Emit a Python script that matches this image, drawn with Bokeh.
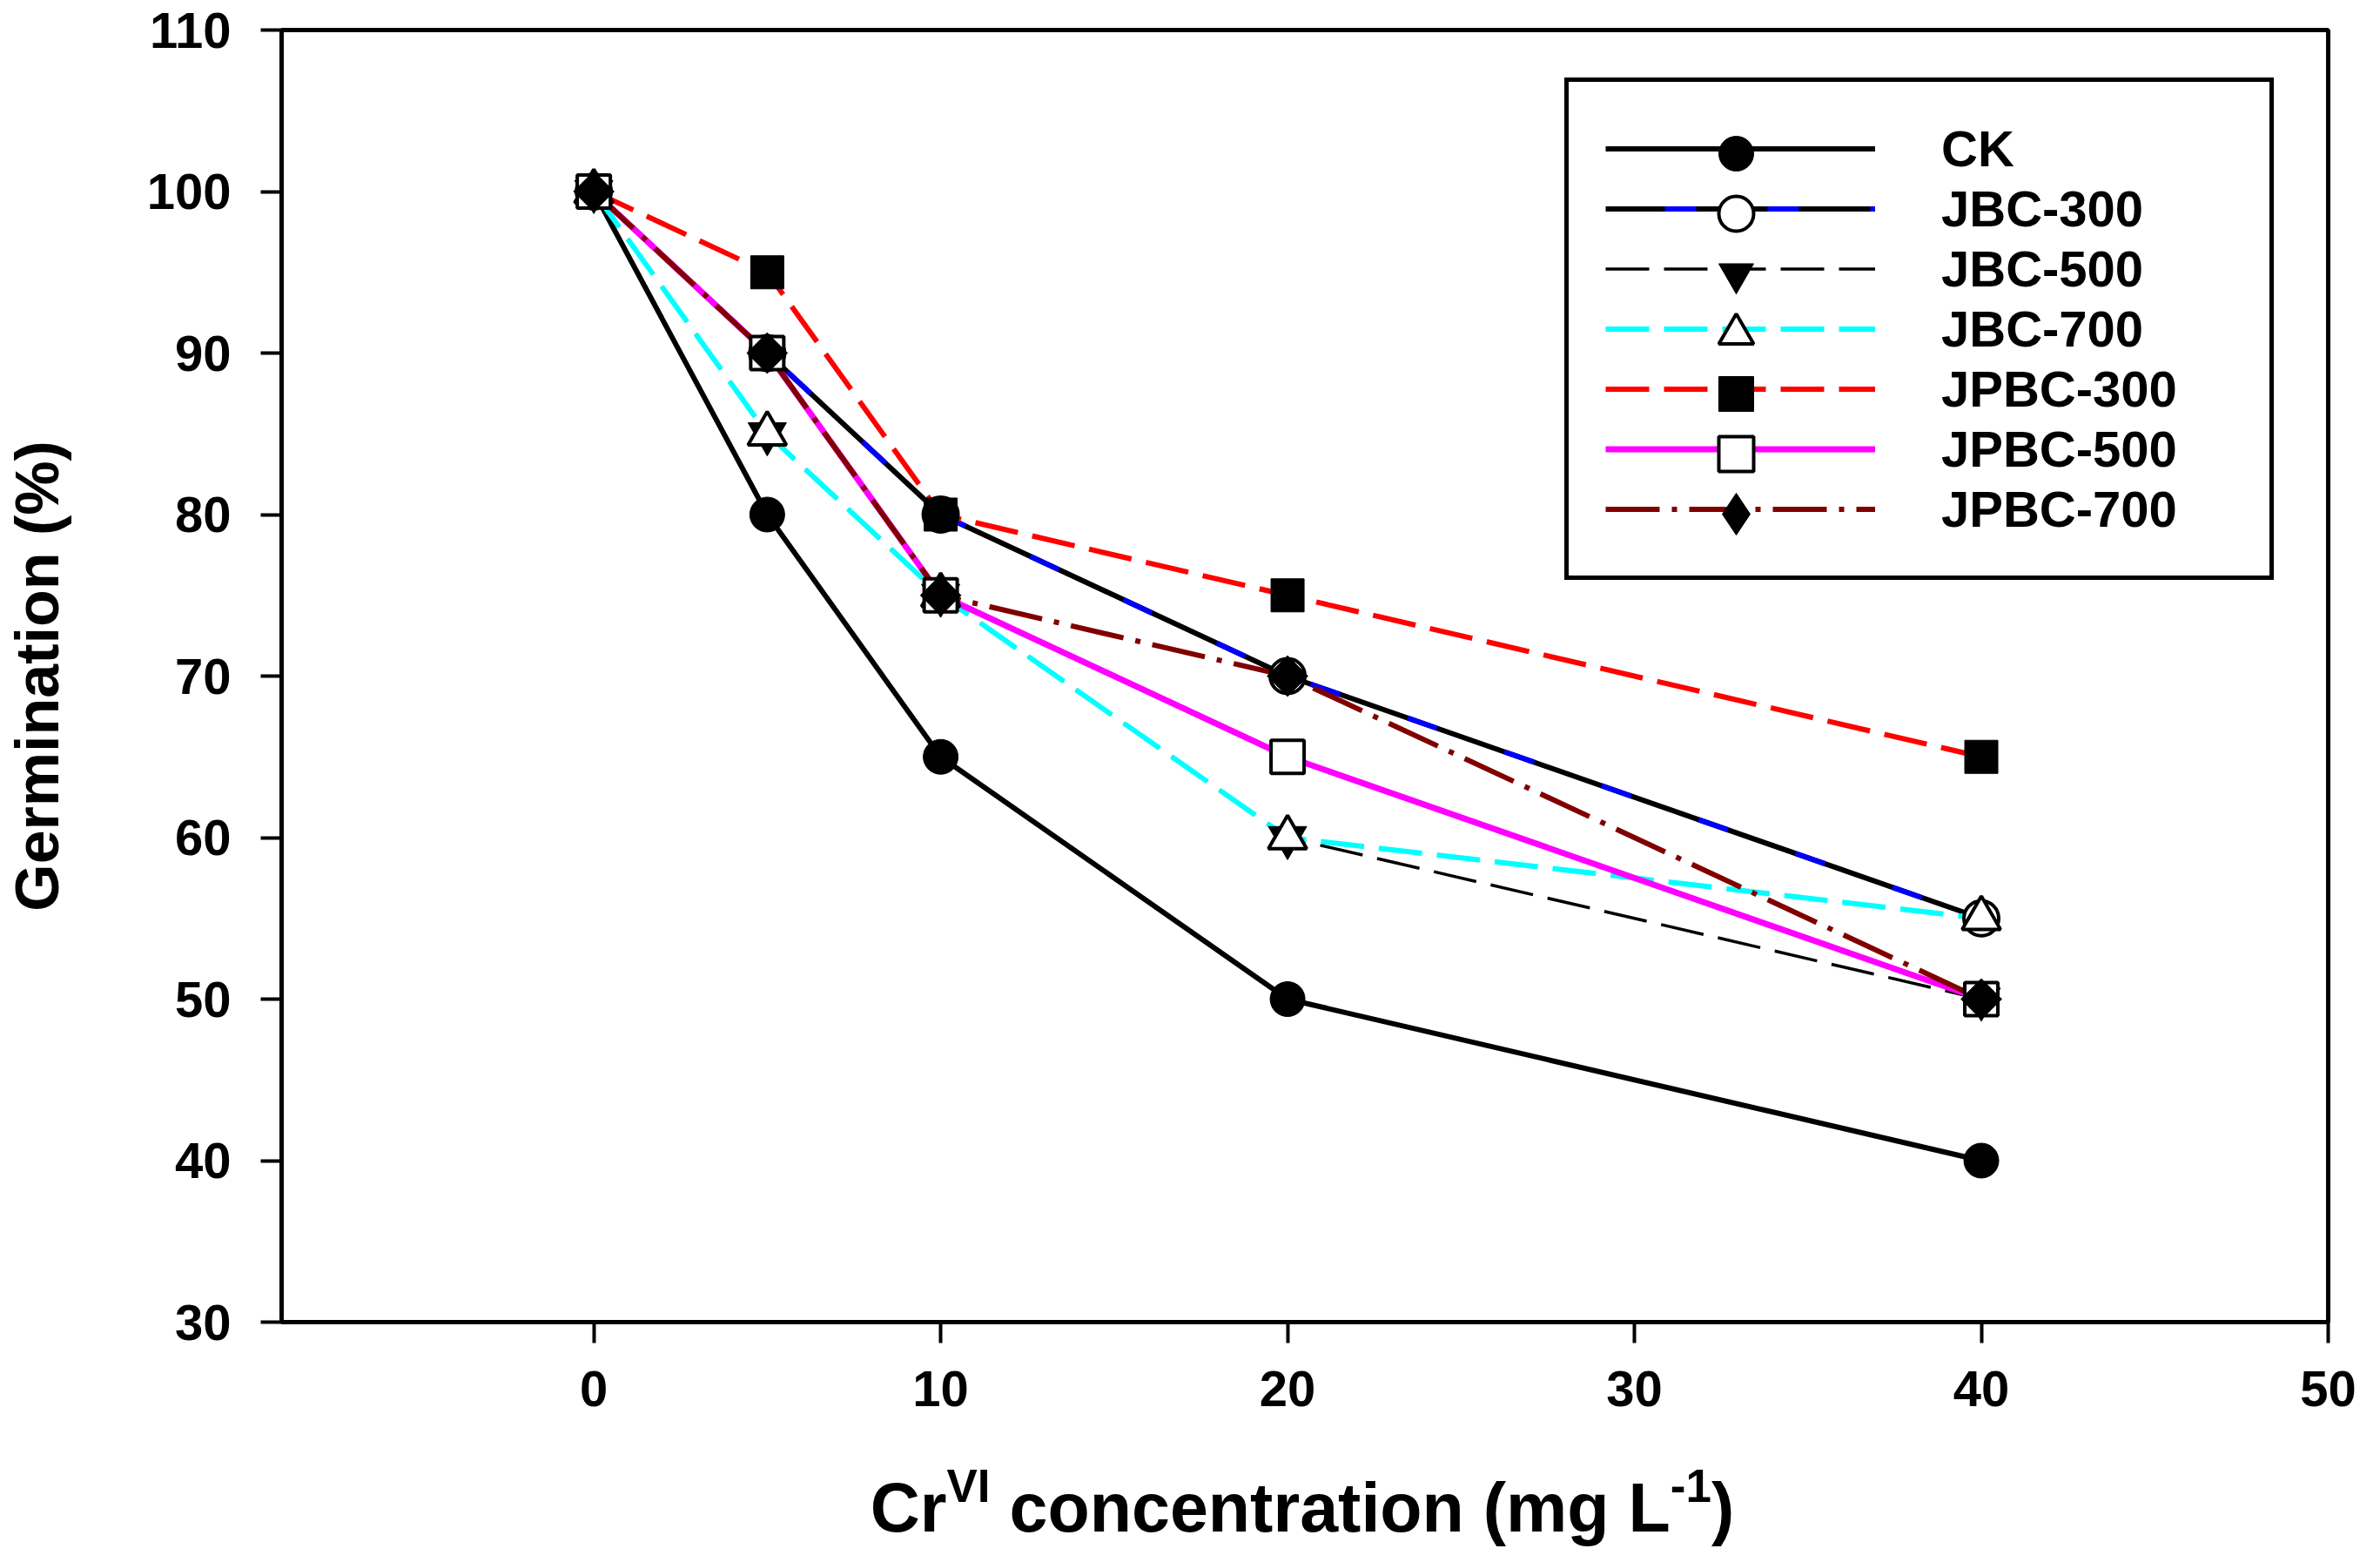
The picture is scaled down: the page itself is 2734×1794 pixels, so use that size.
from math import pi

from bokeh.embed import file_html
from bokeh.layouts import column
from bokeh.models import Div, FixedTicker, Legend, LegendItem
from bokeh.plotting import figure
from bokeh.resources import INLINE

FONT = "Liberation Sans"

# Germination (%) against Cr(VI) concentration (mg/L)
conc = [0, 5, 10, 20, 40]
ck = [100, 80, 65, 50, 40]
jbc300 = [100, 90, 80, 70, 55]
jbc500 = [100, 85, 75, 60, 50]
jbc700 = [100, 85, 75, 60, 55]
jpbc300 = [100, 95, 80, 75, 65]
jpbc500 = [100, 90, 75, 65, 50]
jpbc700 = [100, 90, 75, 70, 50]
names = ["CK", "JBC-300", "JBC-500", "JBC-700", "JPBC-300", "JPBC-500", "JPBC-700"]

x_ticks = [0, 10, 20, 30, 40, 50]
y_ticks = [30, 40, 50, 60, 70, 80, 90, 100, 110]

p = figure(width=2718, height=1680, x_range=(-9, 50), y_range=(30, 110),
           output_backend="svg", toolbar_location=None,
           min_border_left=318, min_border_right=44,
           min_border_top=34, min_border_bottom=162)
p.grid.visible = False
p.outline_line_color = "black"
p.outline_line_width = 5

for ax in (p.xaxis[0], p.yaxis[0]):
    ax.axis_line_width = 5
    ax.major_tick_line_width = 4
    ax.major_tick_out = 24
    ax.major_tick_in = 0
    ax.minor_tick_line_color = None
    ax.major_label_text_font = FONT
    ax.major_label_text_font_style = "bold"
    ax.major_label_text_font_size = "58px"
    ax.major_label_text_color = "black"
p.xaxis.ticker = FixedTicker(ticks=x_ticks)
p.yaxis.ticker = FixedTicker(ticks=y_ticks)
p.xaxis.major_label_standoff = 32
p.yaxis.major_label_standoff = 34

p.yaxis.axis_label = "Germination (%)"
p.yaxis.axis_label_text_font = FONT
p.yaxis.axis_label_text_font_style = "bold"
p.yaxis.axis_label_text_font_size = "70px"
p.yaxis.axis_label_text_color = "black"
p.yaxis.axis_label_standoff = 84

# lines first, markers on top
l_ck = p.line(conc, ck, line_color="black", line_width=6)
l_300 = p.line(conc, jbc300, line_color="black", line_width=6)
l_300b = p.line(conc, jbc300, line_color="blue", line_width=6,
                line_dash="36 82", line_dash_offset=50)
l_500 = p.line(conc, jbc500, line_color="black", line_width=3.5, line_dash="50 17")
l_700 = p.line(conc, jbc700, line_color="cyan", line_width=6, line_dash="50 17")
l_p300 = p.line(conc, jpbc300, line_color="red", line_width=6, line_dash="50 17")
l_p500 = p.line(conc, jpbc500, line_color="magenta", line_width=7)
l_p700 = p.line(conc, jpbc700, line_color="#800000", line_width=6,
                line_dash="62 14 6 14")

m_ck = p.scatter(conc, ck, marker="circle", size=40, color="black")
m_300 = p.scatter(conc, jbc300, marker="circle", size=40, fill_color="white",
                  line_color="black", line_width=4)
m_500 = p.scatter(conc, jbc500, marker="inverted_triangle", size=44, color="black")
m_700 = p.scatter(conc, jbc700, marker="triangle", size=44, fill_color="white",
                  line_color="black", line_width=4)
m_p300 = p.scatter(conc, jpbc300, marker="square", size=38, color="black")
m_p500 = p.scatter(conc, jpbc500, marker="square", size=38, fill_color="white",
                   line_color="black", line_width=4)
# the legend ignores marker angles, so it gets a plain diamond (hidden under the squares)
d_p700 = p.scatter(conc, jpbc700, marker="diamond", size=46, color="black")
m_p700 = p.scatter(conc, jpbc700, marker="square", angle=pi / 4, size=33,
                   color="black")

line_sets = [[l_ck], [l_300, l_300b], [l_500], [l_700], [l_p300], [l_p500], [l_p700]]
legend = Legend(items=[LegendItem(label=n, renderers=r) for n, r in zip(names, line_sets)],
                location=(1474, 852))
legend.padding = 42
legend.spacing = 0
legend.glyph_width = 310
legend.glyph_height = 69
legend.label_height = 69
legend.label_standoff = 76
legend.label_width = 335
legend.label_text_font = FONT
legend.label_text_font_style = "bold"
legend.label_text_font_size = "58px"
legend.label_text_color = "black"
legend.border_line_color = "black"
legend.border_line_alpha = 1.0
legend.border_line_width = 5
legend.background_fill_alpha = 1.0
p.add_layout(legend)

# full-size legend markers, one small legend per row laid over the box
for k, r in enumerate([m_ck, m_300, m_500, m_700, m_p300, m_p500, d_p700]):
    box = 120 if r is d_p700 else 100
    mk = Legend(items=[LegendItem(label=" ", renderers=[r])],
                location=(1671 - box // 2, 1342 - 69 * k - box // 2),
                padding=0, spacing=0, glyph_width=box, glyph_height=box,
                label_width=1, label_standoff=0, label_text_font_size="10px",
                border_line_color=None, background_fill_alpha=0)
    p.add_layout(mk)

sup = "font-size:53px; vertical-align:34px; line-height:0"
x_title = Div(
    text=(f'<div style="box-sizing:border-box; width:2718px; padding-left:274px; '
          f'padding-top:8px; text-align:center; white-space:nowrap; color:black; '
          f"font-family:'{FONT}'; font-weight:bold; font-size:79px; line-height:87px\">"
          f'Cr<span style="{sup}">VI</span> concentration (mg L'
          f'<span style="{sup}">-1</span>)</div>'),
    width=2718, height=98, margin=0)

layout = column(p, x_title, spacing=0)
open("out.html", "w").write(file_html(layout, INLINE))
